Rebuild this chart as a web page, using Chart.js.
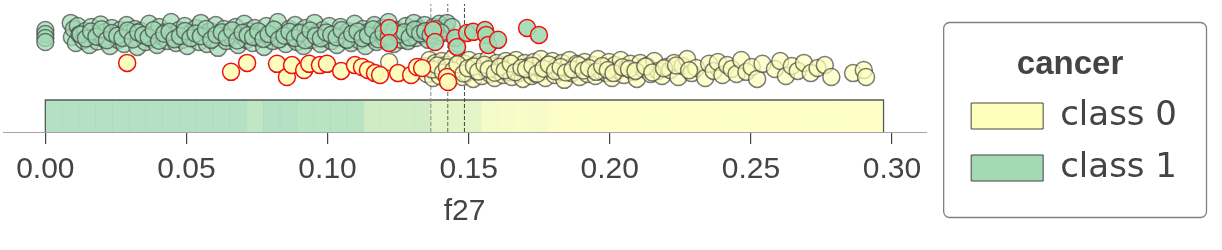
<!DOCTYPE html>
<html><head><meta charset="utf-8">
<script src="https://cdn.jsdelivr.net/npm/chart.js@4.4.1/dist/chart.umd.min.js"></script>
<style>html,body{margin:0;padding:0;background:#fff}#wrap{width:1222px;height:250px;position:relative}</style>
</head><body><div id="wrap"><canvas id="c"></canvas></div>
<script>
// ---------- data ----------
const featureName = 'f27';
const targetName = 'cancer';
const classNames = ['class 0', 'class 1'];
const xTicks = [0.00, 0.05, 0.10, 0.15, 0.20, 0.25, 0.30];
const splitPoints = [0.1366, 0.1426, 0.1485];
const binRange = [0, 0.297];
const binProbClass1 = [
  1, 1, 1, 1, 1, 1, 1, 1, 1, 1,
  1, 1, 0.84, 1, 1, 0.93, 0.93, 0.93, 0.93, 0.63,
  0.63, 0.63, 0.63, 0.37, 0.37, 0.37, 0.14, 0.11, 0.09, 0.11,
  0.02, 0, 0, 0, 0, 0, 0, 0, 0, 0,
  0, 0, 0, 0, 0, 0, 0, 0, 0, 0
];
// class 1 samples (correctly classified)
const class1X = [0, 0, 0, 0,
  0.0090, 0.0094, 0.0101, 0.0108, 0.0115, 0.0121, 0.0135, 0.0142, 0.0156, 0.0163,
  0.0177, 0.0185, 0.0196, 0.0208, 0.0214, 0.0229, 0.0236, 0.0247, 0.0258, 0.0266,
  0.0279, 0.0288, 0.0297, 0.0309, 0.0318, 0.0326, 0.0338, 0.0347, 0.0355, 0.0368,
  0.0376, 0.0385, 0.0396, 0.0404, 0.0417, 0.0425, 0.0433, 0.0446, 0.0455, 0.0463,
  0.0474, 0.0486, 0.0494, 0.0503, 0.0515, 0.0522, 0.0534, 0.0545, 0.0551, 0.0566,
  0.0573, 0.0584, 0.0593, 0.0604, 0.0612, 0.0625, 0.0633, 0.0641, 0.0655, 0.0662,
  0.0674, 0.0683, 0.0692, 0.0705, 0.0713, 0.0721, 0.0734, 0.0742, 0.0753, 0.0762,
  0.0775, 0.0783, 0.0791, 0.0806, 0.0812, 0.0824, 0.0833, 0.0845, 0.0852, 0.0864,
  0.0873, 0.0885, 0.0892, 0.0904, 0.0915, 0.0922, 0.0936, 0.0943, 0.0954, 0.0963,
  0.0975, 0.0984, 0.0993, 0.1006, 0.1014, 0.1025, 0.1033, 0.1046, 0.1055, 0.1063,
  0.1075, 0.1084, 0.1096, 0.1104, 0.1113, 0.1126, 0.1134, 0.1145, 0.1153, 0.1166,
  0.1174, 0.1183, 0.1195, 0.1204, 0.1216, 0.1223, 0.1235, 0.1246, 0.1254, 0.1263,
  0.1277, 0.1285, 0.1294, 0.1306, 0.1314, 0.1325, 0.1336, 0.1344, 0.1357, 0.1365,
  0.1376, 0.1388, 0.1396, 0.1408, 0.1417, 0.1423, 0.1441,
  0.0125, 0.0144, 0.0162, 0.0181, 0.0199, 0.0218, 0.0236, 0.0255, 0.0273, 0.0292,
  0.0310, 0.0329, 0.0347, 0.0366, 0.0384, 0.0403, 0.0421, 0.0440, 0.0458, 0.0477,
  0.0495, 0.0514, 0.0532, 0.0551, 0.0569, 0.0588, 0.0606, 0.0625, 0.0643, 0.0662,
  0.0680, 0.0699, 0.0717, 0.0736, 0.0754, 0.0773, 0.0791, 0.0810, 0.0828, 0.0847,
  0.0865, 0.0884, 0.0902, 0.0921, 0.0939, 0.0958, 0.0976, 0.0995, 0.1013, 0.1032,
  0.1050, 0.1069, 0.1087, 0.1106, 0.1124, 0.1143, 0.1161, 0.1180, 0.1198, 0.1217,
  0.1235, 0.1254, 0.1272, 0.1291, 0.1309, 0.1328, 0.1346, 0.1365, 0.1383, 0.1402];
const class1Y = [3.19, 3.06, 2.94, 2.81,
  3.41, 2.97, 3.22, 2.78, 3.31, 3.05, 2.86, 3.16, 2.72, 3.28, 3.00, 2.83, 3.36, 2.91, 3.13, 2.69, 3.25, 3.03, 2.88, 3.19,
  2.75, 3.34, 3.09, 2.94, 3.22, 2.66, 3.16, 3.00, 2.81, 3.38, 2.91, 3.06, 2.72, 3.28, 2.97, 3.13, 2.84, 3.44, 3.03, 2.78,
  3.19, 2.88, 3.31, 2.69, 3.09, 2.94, 3.25, 2.81, 3.41, 3.00, 2.75, 3.16, 2.91, 3.34, 2.63, 3.06, 3.22, 2.84, 3.13, 2.97,
  3.28, 2.72, 3.03, 3.38, 2.88, 3.16, 2.78, 3.25, 2.94, 3.09, 2.66, 3.31, 3.00, 2.84, 3.19, 3.44, 2.91, 3.06, 2.75, 3.22,
  2.97, 3.34, 2.81, 3.13, 2.69, 3.25, 3.03, 2.88, 3.41, 3.09, 2.75, 3.19, 2.94, 3.31, 2.84, 3.06, 2.72, 3.28, 3.00, 2.91,
  3.16, 2.78, 3.38, 3.03, 2.86, 3.22, 2.69, 3.13, 2.97, 3.34, 2.81, 3.09, 3.25, 2.91, 3.44, 3.00, 2.75, 3.19, 3.06, 2.88,
  3.31, 2.84, 3.13, 3.41, 2.94, 3.22, 3.03, 3.34, 2.88, 3.16, 3.28, 3.00, 3.38, 3.09, 3.25, 3.41, 3.28,
  3.05, 2.92, 3.14, 2.98, 3.21, 2.87, 3.09, 3.01, 2.94, 3.17,
  2.89, 3.11, 3.03, 2.96, 3.19, 2.85, 3.07, 3.13, 2.90, 3.00,
  3.16, 2.93, 3.08, 2.99, 3.22, 2.88, 3.04, 3.12, 2.95, 3.18,
  2.86, 3.10, 3.02, 2.97, 3.15, 2.91, 3.06, 3.20, 2.89, 3.01,
  3.13, 2.94, 3.09, 2.87, 3.17, 3.00, 2.92, 3.11, 3.04, 2.96,
  3.19, 2.88, 3.07, 3.14, 2.93, 3.02, 3.21, 2.90, 3.10, 2.98,
  3.16, 3.05, 3.12, 2.95, 3.20, 3.08, 3.15, 3.03, 3.22, 3.11];
// class 0 samples (correctly classified)
const class0X = [0.1218,
  0.1345, 0.1352, 0.1361, 0.1368, 0.1374, 0.1382, 0.1391, 0.1397, 0.1405, 0.1412,
  0.1419, 0.1427, 0.1433, 0.1441, 0.1448, 0.1456, 0.1463, 0.1471, 0.1478, 0.1486,
  0.1493, 0.1501, 0.1508, 0.1516, 0.1524, 0.1531, 0.1538, 0.1547, 0.1553, 0.1562,
  0.1569, 0.1576, 0.1585, 0.1592, 0.1599, 0.1607, 0.1615, 0.1622, 0.1631, 0.1637,
  0.1646, 0.1653, 0.1661, 0.1668, 0.1676, 0.1684, 0.1692, 0.1699, 0.1707, 0.1715,
  0.1724, 0.1731, 0.1739, 0.1748, 0.1756, 0.1763, 0.1772, 0.1781, 0.1788, 0.1797,
  0.1805, 0.1814, 0.1822, 0.1831, 0.1839, 0.1848, 0.1857, 0.1866, 0.1874, 0.1883,
  0.1893, 0.1902, 0.1911, 0.1921, 0.1930, 0.1939, 0.1949, 0.1958, 0.1968, 0.1978,
  0.1988, 0.1997, 0.2008, 0.2018, 0.2029, 0.2039, 0.2050, 0.2061, 0.2073, 0.2084,
  0.2096, 0.2108, 0.2119, 0.2132, 0.2145, 0.2158, 0.2171, 0.2185, 0.2199, 0.2214,
  0.2228, 0.2243, 0.2258, 0.2274, 0.2290, 0.2306,
  0.2338, 0.2352, 0.2368, 0.2383, 0.2399, 0.2416, 0.2432, 0.2449, 0.2466, 0.2484, 0.2503, 0.2522, 0.2541,
  0.2585, 0.2604, 0.2624, 0.2645, 0.2666, 0.2688, 0.2712, 0.2736, 0.2762, 0.2785,
  0.2862, 0.2900, 0.2908,
  0.1372, 0.1388, 0.1409, 0.1423, 0.1445, 0.1460, 0.1482, 0.1497, 0.1519, 0.1534,
  0.1556, 0.1571, 0.1593, 0.1610, 0.1628, 0.1649, 0.1665, 0.1687, 0.1703, 0.1726,
  0.1743, 0.1765, 0.1784, 0.1806, 0.1826, 0.1845, 0.1868, 0.1889, 0.1907, 0.1926,
  0.1952, 0.1973, 0.1993, 0.2013, 0.2045, 0.2068, 0.2091, 0.2126, 0.2151, 0.2192,
  0.2235, 0.2281];
const class0Y = [
  2.19, 2.06, 1.81, 2.25, 1.94, 1.69, 2.16, 2.00, 1.75, 2.22, 1.88, 2.09, 1.63, 1.97, 2.28, 1.78, 2.03, 1.91, 2.19, 1.72,
  2.13, 1.84, 2.25, 1.97, 1.66, 2.09, 1.88, 2.19, 1.75, 2.03, 1.94, 2.28, 1.81, 2.06, 1.69, 2.16, 1.91, 2.00, 1.78, 2.22,
  1.88, 2.13, 1.72, 2.03, 2.25, 1.84, 1.97, 1.66, 2.16, 1.94, 2.06, 1.75, 2.19, 1.81, 2.00, 2.28, 1.91, 1.69, 2.09, 1.97,
  2.22, 1.78, 2.06, 1.88, 2.16, 1.63, 2.00, 2.25, 1.84, 1.94, 2.13, 1.72, 2.03, 2.19, 1.81, 1.97, 2.09, 1.75, 2.28, 1.91,
  2.03, 1.84, 2.19, 1.69, 2.09, 1.94, 2.25, 1.78, 2.00, 2.13, 1.88, 1.66, 2.16, 1.97, 2.06, 1.81, 2.22, 1.91, 1.75, 2.03,
  1.94, 2.16, 1.72, 2.06, 2.28, 1.84, 2.00, 1.69, 2.13, 1.91, 2.19, 1.78, 2.09, 1.97, 1.81, 2.25, 1.88, 2.03, 1.66, 2.13,
  1.97, 2.22, 1.75, 2.06, 1.91, 2.16, 1.84, 2.00, 2.09, 1.72, 1.84, 1.94, 1.72,
  1.95, 2.08, 1.86, 2.02, 1.92, 2.12, 1.83, 1.99, 2.05, 1.89,
  2.10, 1.96, 1.85, 2.04, 1.93, 2.14, 1.87, 2.01, 1.97, 2.07,
  1.82, 1.98, 2.11, 1.90, 2.03, 1.86, 1.95, 2.09, 1.92, 2.00,
  1.88, 2.06, 1.94, 1.84, 2.02, 1.97, 1.91, 2.05, 1.86, 1.99,
  2.08, 1.93];
// misclassified samples
const class1MisX = [0.1218, 0.1218, 0.1374, 0.1381, 0.1452, 0.1459, 0.1494, 0.1516, 0.1558, 0.1562, 0.1569, 0.1604, 0.1707, 0.1749];
const class1MisY = [3.25, 2.78, 3.19, 2.81, 2.94, 2.66, 3.09, 3.13, 3.19, 3.03, 2.72, 2.88, 3.25, 3.03];
const class0MisX = [0.0290, 0.0658, 0.0715, 0.0821, 0.0856, 0.0874, 0.0917, 0.0935, 0.0973, 0.0998, 0.1048,
  0.1097, 0.1122, 0.1143, 0.1168, 0.1186, 0.1250, 0.1296, 0.1317, 0.1335, 0.1423, 0.1427];
const class0MisY = [2.16, 1.88, 2.16, 2.13, 1.72, 2.09, 1.94, 2.13, 2.09, 2.13, 1.91,
  2.09, 2.03, 1.94, 1.84, 1.78, 1.84, 1.78, 2.03, 2.00, 1.72, 1.56];

// ---------- styling ----------
const TEXT = '#444443';
const C0 = [254, 254, 187];
const C1 = [161, 218, 180];
const rgb = (c, a) => `rgba(${c[0]},${c[1]},${c[2]},${a})`;
const mix = p => rgb(C0.map((v, i) => Math.round(v * (1 - p) + C1[i] * p)), 0.8);
const zip = (xs, ys) => xs.map((x, i) => ({x, y: ys[i]}));
const nBins = binProbClass1.length;
const binW = (binRange[1] - binRange[0]) / nBins;
const splitColors = ['#8a8a8a', '#666666', '#444443'];

Chart.defaults.font.family = 'Liberation Sans';
Chart.defaults.color = TEXT;

const legendFrame = {
  id: 'legendFrame',
  beforeDraw(chart) {
    const lg = chart.legend; if (!lg) return;
    const ctx = chart.ctx;
    const x0 = lg.left - 10, x1 = lg.right + 19, y0 = 22, y1 = 217;
    ctx.save();
    ctx.beginPath();
    ctx.roundRect(x0 + 0.5, y0 + 0.5, x1 - x0, y1 - y0, 6);
    ctx.fillStyle = '#ffffff'; ctx.fill();
    ctx.strokeStyle = '#808080'; ctx.lineWidth = 1.3; ctx.stroke();
    ctx.restore();
  }
};

const pointStyle = (fill, edge) => ({
  backgroundColor: fill, borderColor: edge, borderWidth: 1.5, pointRadius: 8.5, pointHoverRadius: 8.5
});

new Chart(document.getElementById('c'), {
  type: 'scatter',
  data: {
    datasets: [
      { type: 'bar', label: 'bins',
        data: binProbClass1.map((p, i) => ({x: binRange[0] + (i + 0.5) * binW, y: [0, 1]})),
        backgroundColor: binProbClass1.map(mix), borderWidth: 0,
        barPercentage: 1, categoryPercentage: 1, grouped: false, order: 10 },
      { type: 'line', label: 'outline',
        data: [{x: binRange[0], y: 0}, {x: binRange[0], y: 1}, {x: binRange[1], y: 1}, {x: binRange[1], y: 0}],
        borderColor: '#5a5a5a', borderWidth: 1.3, pointRadius: 0, fill: false, order: 9 },
      ...splitPoints.map((s, i) => ({ type: 'line', label: 'split' + i,
        data: [{x: s, y: 0}, {x: s, y: 4.0}], borderColor: splitColors[i], borderWidth: 1,
        borderDash: [4, 2], pointRadius: 0, fill: false, order: 5 })),
      { label: classNames[1], data: zip(class1X, class1Y), order: 3,
        ...pointStyle(rgb(C1, 0.72), 'rgba(68,68,67,0.7)') },
      { label: classNames[0], data: zip(class0X, class0Y), order: 2,
        ...pointStyle(rgb(C0, 0.72), 'rgba(68,68,67,0.7)') },
      { label: classNames[1] + ' misclassified', data: zip(class1MisX, class1MisY), order: 1,
        ...pointStyle(rgb(C1, 0.9), '#ee1111') },
      { label: classNames[0] + ' misclassified', data: zip(class0MisX, class0MisY), order: 0,
        ...pointStyle(rgb(C0, 0.95), '#ee1111') }
    ]
  },
  options: {
    responsive: true, maintainAspectRatio: false, animation: false, events: [],
    layout: { autoPadding: false, padding: { left: 3, right: 35, top: 0, bottom: 0 } },
    scales: {
      x: {
        type: 'linear', min: -0.015, max: 0.3121, offset: false,
        afterBuildTicks: s => { s.ticks = xTicks.map(v => ({value: v})); },
        afterFit: s => { s.paddingLeft = 0; s.paddingRight = 0; },
        ticks: { callback: v => Number(v).toFixed(2), color: TEXT, font: {size: 30}, padding: 8,
                 maxRotation: 0, autoSkip: false },
        grid: { display: true, drawOnChartArea: false, drawTicks: true, tickLength: 12,
                color: TEXT, lineWidth: 1.2, offset: false },
        border: { display: true, color: '#a5a5a5', width: 1 },
        title: { display: true, text: featureName, color: TEXT, font: {size: 30}, padding: {top: -2, bottom: 20} }
      },
      y: { type: 'linear', display: false, min: 0, max: 4.125 },
      yPad: { type: 'linear', position: 'right', display: true,
              ticks: { display: false }, grid: { display: false }, border: { display: false },
              afterFit: s => { s.width = 27; } }
    },
    plugins: {
      tooltip: { enabled: false },
      legend: {
        display: true, position: 'right', align: 'start',
        title: { display: true, text: targetName, color: TEXT, position: 'center',
                 font: { family: 'Liberation Sans', size: 33, weight: 'bold', lineHeight: 0.9 },
                 padding: { top: 48.5, bottom: 2.8 } },
        labels: {
          color: TEXT, boxWidth: 72, boxHeight: 26, padding: 18,
          font: { family: 'DejaVu Sans', size: 34 },
          generateLabels: () => classNames.map((name, i) => ({
            text: name, fillStyle: rgb(i === 0 ? C0 : C1, 1), strokeStyle: TEXT,
            lineWidth: 1, hidden: false, fontColor: TEXT, datasetIndex: i
          }))
        }
      }
    }
  },
  plugins: [legendFrame]
});
</script>
</body></html>
